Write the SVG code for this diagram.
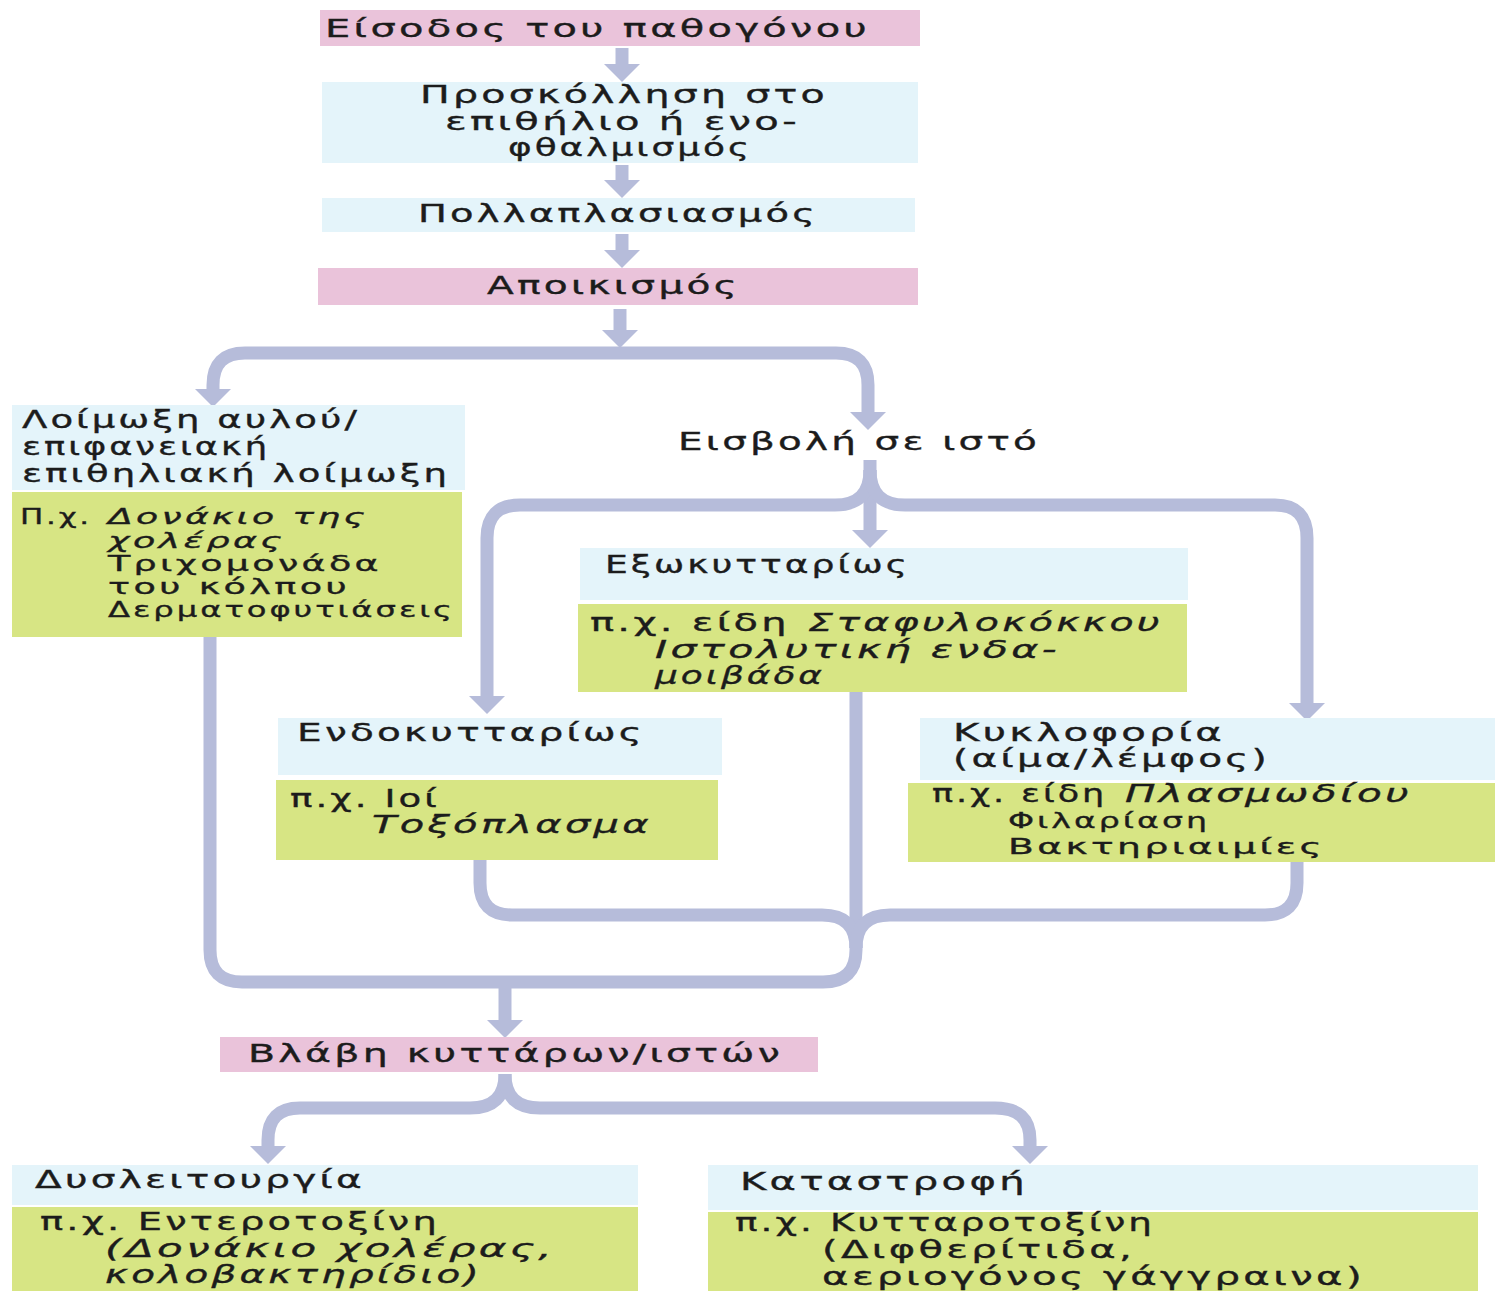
<svg xmlns="http://www.w3.org/2000/svg" width="1495" height="1291" viewBox="0 0 1495 1291">
<defs>
<style>
.pink{fill:#eac3da}
.blue{fill:#e4f4fa}
.green{fill:#d7e584}
text{font-family:"DejaVu Sans","Liberation Sans",sans-serif;font-size:24px;letter-spacing:2px;fill:#1c1c1c;stroke:#1c1c1c;stroke-width:0.35px}
.it{font-style:italic}
.sm{font-size:22px}
.c{fill:none;stroke:#b6bcda;stroke-width:13;marker-end:url(#ah)}
.cn{fill:none;stroke:#b6bcda;stroke-width:13}
</style>
<marker id="ah" markerUnits="userSpaceOnUse" markerWidth="18" markerHeight="36" viewBox="0 0 18 36" refX="0" refY="18" orient="auto">
<path d="M0,0 L18,18 L0,36 Z" fill="#b6bcda"/>
</marker>
</defs>
<rect width="1495" height="1291" fill="#ffffff"/>

<g id="connectors">
<path class="c" d="M622,48 V64"/>
<path class="c" d="M622,165 V180"/>
<path class="c" d="M622,234 V250"/>
<path class="c" d="M620,309 V330"/>
<path class="c" d="M620,353 H245 Q213,353 213,385 V389"/>
<path class="c" d="M620,353 H836 Q868,353 868,385 V412"/>
<path class="c" d="M870,460 V530"/>
<path class="c" d="M870,470 Q870,505 835,505 H520 Q487,505 487,538 V696"/>
<path class="c" d="M870,470 Q870,505 905,505 H1275 Q1307,505 1307,538 V703"/>
<path class="cn" d="M210,637 V950 Q210,982 242,982 H823 Q856,982 856,950 V692"/>
<path class="cn" d="M480,860 V883 Q480,915 512,915 H822 Q856,915 856,948"/>
<path class="cn" d="M1297,862 V883 Q1297,915 1265,915 H890 Q856,915 856,948"/>
<path class="c" d="M505,982 V1020"/>
<path class="c" d="M505,1074 Q505,1108 470,1108 H300 Q268,1108 268,1140 V1146"/>
<path class="c" d="M505,1074 Q505,1108 540,1108 H995 Q1030,1108 1030,1140 V1146"/>
</g>

<g id="n-entry">
<rect class="pink" x="320" y="10" width="600" height="36"/>
<text x="325" y="37" textLength="545" lengthAdjust="spacingAndGlyphs">Είσοδος του παθογόνου</text>
</g>

<g id="n-adhesion">
<rect class="blue" x="322" y="82" width="596" height="81"/>
<text x="420" y="103" textLength="408" lengthAdjust="spacingAndGlyphs">Προσκόλληση στο</text>
<text x="445" y="130" textLength="355" lengthAdjust="spacingAndGlyphs">επιθήλιο ή ενο-</text>
<text x="508" y="156" textLength="244" lengthAdjust="spacingAndGlyphs">φθαλμισμός</text>
</g>

<g id="n-multiplication">
<rect class="blue" x="322" y="198" width="593" height="34"/>
<text x="418" y="222" textLength="400" lengthAdjust="spacingAndGlyphs">Πολλαπλασιασμός</text>
</g>

<g id="n-colonisation">
<rect class="pink" x="318" y="268" width="600" height="37"/>
<text x="487" y="294" textLength="253" lengthAdjust="spacingAndGlyphs">Αποικισμός</text>
</g>

<g id="n-surface">
<rect class="blue" x="12" y="405" width="453" height="85"/>
<rect class="green" x="12" y="492" width="450" height="145"/>
<text x="22" y="428" textLength="338" lengthAdjust="spacingAndGlyphs">Λοίμωξη αυλού/</text>
<text x="22" y="455" textLength="248" lengthAdjust="spacingAndGlyphs">επιφανειακή</text>
<text x="22" y="482" textLength="428" lengthAdjust="spacingAndGlyphs">επιθηλιακή λοίμωξη</text>
<text class="sm" x="20" y="524" textLength="72" lengthAdjust="spacingAndGlyphs">Π.χ.</text>
<text class="it sm" x="108" y="524" textLength="260" lengthAdjust="spacingAndGlyphs">Δονάκιο  της</text>
<text class="it sm" x="108" y="548" textLength="177" lengthAdjust="spacingAndGlyphs">χολέρας</text>
<text class="sm" x="108" y="571" textLength="274" lengthAdjust="spacingAndGlyphs">Τριχομονάδα</text>
<text class="sm" x="108" y="594" textLength="242" lengthAdjust="spacingAndGlyphs">του  κόλπου</text>
<text class="sm" x="108" y="617" textLength="347" lengthAdjust="spacingAndGlyphs">Δερματοφυτιάσεις</text>
</g>

<g id="n-invasion">
<text x="678" y="450" textLength="362" lengthAdjust="spacingAndGlyphs">Εισβολή σε ιστό</text>
</g>

<g id="n-extracellular">
<rect class="blue" x="580" y="548" width="608" height="52"/>
<rect class="green" x="578" y="604" width="609" height="88"/>
<text x="605" y="573" textLength="305" lengthAdjust="spacingAndGlyphs">Εξωκυτταρίως</text>
<text x="590" y="631" textLength="200" lengthAdjust="spacingAndGlyphs">π.χ. είδη</text>
<text class="it" x="808" y="631" textLength="355" lengthAdjust="spacingAndGlyphs">Σταφυλοκόκκου</text>
<text class="it" x="655" y="658" textLength="405" lengthAdjust="spacingAndGlyphs">Ιστολυτική ενδα-</text>
<text class="it" x="655" y="684" textLength="170" lengthAdjust="spacingAndGlyphs">μοιβάδα</text>
</g>

<g id="n-intracellular">
<rect class="blue" x="278" y="718" width="444" height="57"/>
<rect class="green" x="276" y="780" width="442" height="80"/>
<text x="297" y="741" textLength="348" lengthAdjust="spacingAndGlyphs">Ενδοκυτταρίως</text>
<text x="290" y="807" textLength="150" lengthAdjust="spacingAndGlyphs">π.χ. Ιοί</text>
<text class="it" x="372" y="833" textLength="280" lengthAdjust="spacingAndGlyphs">Τοξόπλασμα</text>
</g>

<g id="n-circulation">
<rect class="blue" x="920" y="718" width="575" height="62"/>
<rect class="green" x="908" y="783" width="587" height="79"/>
<text x="953" y="741" textLength="272" lengthAdjust="spacingAndGlyphs">Κυκλοφορία</text>
<text x="953" y="767" textLength="317" lengthAdjust="spacingAndGlyphs">(αίμα/λέμφος)</text>
<text x="932" y="802" textLength="175" lengthAdjust="spacingAndGlyphs">π.χ. είδη</text>
<text class="it" x="1125" y="802" textLength="287" lengthAdjust="spacingAndGlyphs">Πλασμωδίου</text>
<text class="sm" x="1008" y="828" textLength="202" lengthAdjust="spacingAndGlyphs">Φιλαρίαση</text>
<text class="sm" x="1008" y="854" textLength="317" lengthAdjust="spacingAndGlyphs">Βακτηριαιμίες</text>
</g>

<g id="n-damage">
<rect class="pink" x="220" y="1037" width="598" height="35"/>
<text x="248" y="1062" textLength="535" lengthAdjust="spacingAndGlyphs">Βλάβη κυττάρων/ιστών</text>
</g>

<g id="n-dysfunction">
<rect class="blue" x="12" y="1165" width="626" height="40"/>
<rect class="green" x="12" y="1207" width="626" height="84"/>
<text x="35" y="1188" textLength="330" lengthAdjust="spacingAndGlyphs">Δυσλειτουργία</text>
<text x="40" y="1230" textLength="400" lengthAdjust="spacingAndGlyphs">π.χ. Εντεροτοξίνη</text>
<text class="it" x="105" y="1257" textLength="450" lengthAdjust="spacingAndGlyphs">(Δονάκιο χολέρας,</text>
<text class="it" x="105" y="1283" textLength="377" lengthAdjust="spacingAndGlyphs">κολοβακτηρίδιο)</text>
</g>

<g id="n-destruction">
<rect class="blue" x="708" y="1165" width="770" height="45"/>
<rect class="green" x="708" y="1212" width="770" height="79"/>
<text x="740" y="1190" textLength="288" lengthAdjust="spacingAndGlyphs">Καταστροφή</text>
<text x="735" y="1231" textLength="420" lengthAdjust="spacingAndGlyphs">π.χ. Κυτταροτοξίνη</text>
<text x="822" y="1258" textLength="313" lengthAdjust="spacingAndGlyphs">(Διφθερίτιδα,</text>
<text x="822" y="1285" textLength="543" lengthAdjust="spacingAndGlyphs">αεριογόνος γάγγραινα)</text>
</g>
</svg>
